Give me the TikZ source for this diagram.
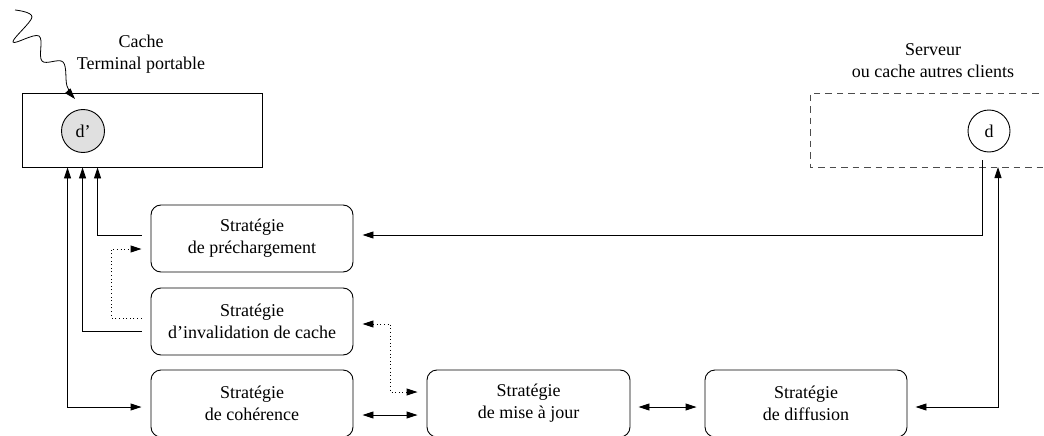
\documentclass[tikz,border=0pt]{standalone}
\usepackage{fontspec}
\setmainfont{Liberation Serif}
\usetikzlibrary{arrows.meta}
\begin{document}
\begin{tikzpicture}[x=1pt,y=-1pt,
  line width=0.9pt,
  every node/.style={font=\fontsize{18}{22}\selectfont, align=center, inner sep=0pt},
  strat/.style={draw, rounded corners=10pt, minimum width=202pt, minimum height=67pt},
  arr/.style={-{Triangle[length=11pt,width=7pt]}},
  arrboth/.style={{Triangle[length=11pt,width=7pt]}-{Triangle[length=11pt,width=7pt]}},
  dotline/.style={dash pattern=on 1pt off 2.6pt},
  srvline/.style={draw=black!70, dash pattern=on 6.5pt off 5pt}]
\useasboundingbox (0,0) rectangle (1044,436);
\clip (0,0) rectangle (1044,436);

% mobile terminal cache
\node[draw, minimum width=240pt, minimum height=74pt] (cache) at (142,130) {};
\node[draw, circle, fill=black!12, minimum size=43pt] (dp) at (83,131) {d'};
\node (cachelbl) at (141,54) {Cache\\Terminal portable};

% wireless link
\coordinate (wstart) at (15,10);
\draw[arr, line width=0.8pt] plot[smooth, tension=0.6] coordinates
  {(15,10) (32,17) (13,42) (39,36) (42,61) (63,62) (67,86) (75,99)};

% server or other clients' caches
\draw[srvline] (1050,93) -| (810,167) -- (1050,167);
\node[draw, circle, minimum size=42pt] (d) at (989,131) {d};
\node (srvlbl) at (933,61) {Serveur\\ou cache autres clients};
\coordinate (srvb) at (998,167);

% strategies
\node[strat] (pre) at (252,238.5) {Stratégie\\de préchargement};
\node[strat] (inv) at (252,321.5) {Stratégie\\d'invalidation de cache};
\node[strat] (coh) at (252,403.5) {Stratégie\\de cohérence};
\node[strat, minimum width=203pt] (maj) at (528.5,403.5) {Stratégie\\de mise à jour};
\node[strat] (dif) at (806,403.5) {Stratégie\\de diffusion};

% connectors towards the terminal cache
\draw[arr] ([shift={(-9pt,3.5pt)}]pre.west) -| ([xshift=76pt]cache.south west);
\draw[arr] ([shift={(-9pt,-10pt)}]inv.west) -| ([xshift=61pt]cache.south west);
\draw[arrboth] ([xshift=46pt]cache.south west) |- ([shift={(-9pt,-3.5pt)}]coh.west);

% dotted links
\draw[arr, dotline] ([shift={(-9pt,3.5pt)}]inv.west) -- ++(-30pt,0) |- ([shift={(-9pt,-10.5pt)}]pre.west);
\draw[arrboth, dotline] ([shift={(9pt,-2.5pt)}]inv.east) -- ++(28pt,0) |- ([shift={(-9pt,11.5pt)}]maj.west);

% bottom row
\draw[arrboth] ([shift={(9pt,-11.5pt)}]coh.east) -- ([shift={(-9pt,-11.5pt)}]maj.west);
\draw[arrboth] ([shift={(8pt,-3.5pt)}]maj.east) -- ([shift={(-8pt,-3.5pt)}]dif.west);

% links with the server
\draw[arr] ([shift={(-7pt,-8pt)}]d.south) |- ([shift={(9pt,3.5pt)}]pre.east);
\draw[arrboth] ([shift={(8pt,-3.5pt)}]dif.east) -| (srvb);
\end{tikzpicture}
\end{document}
